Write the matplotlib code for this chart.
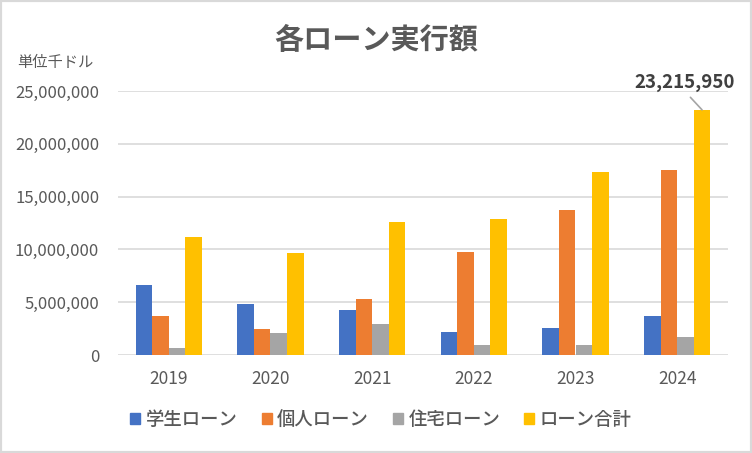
import matplotlib
matplotlib.use("Agg")
import matplotlib.pyplot as plt
import numpy as np
from matplotlib.patches import Patch, Rectangle
from matplotlib.ticker import FuncFormatter

plt.rcParams['font.family'] = ['Noto Sans CJK JP', 'DejaVu Sans']

# data (units: thousand dollars)
years = ['2019', '2020', '2021', '2022', '2023', '2024']
student = [6630000, 4860000, 4300000, 2200000, 2580000, 3700000]
personal = [3700000, 2480000, 5340000, 9780000, 13730000, 17500000]
housing = [700000, 2100000, 2970000, 910000, 970000, 1730000]
total = [11200000, 9700000, 12600000, 12900000, 17350000, 23215950]
series_names = ['学生ローン', '個人ローン', '住宅ローン', 'ローン合計']
colors = ['#4472C4', '#ED7D31', '#A5A5A5', '#FFC000']
text_color = '#595959'

fig = plt.figure(figsize=(7.52, 4.53), dpi=100)
ax = fig.add_axes([118/752, 1 - 355/453, (728-118)/752, (355-91)/453])

x = np.arange(len(years))
w = 0.163
all_series = [student, personal, housing, total]
for i, vals in enumerate(all_series):
    ax.bar(x + (i - 1.5) * w, vals, width=w, color=colors[i], zorder=3)

ax.set_xlim(-0.5, len(years) - 0.5)
ax.set_ylim(0, 25000000)
ax.set_yticks(np.arange(0, 25000001, 5000000))
ax.yaxis.set_major_formatter(FuncFormatter(lambda v, p: f'{int(v):,}'))
ax.set_xticks(x)
ax.set_xticklabels(years)
ax.tick_params(axis='both', length=0, colors=text_color)
ax.tick_params(axis='x', pad=11, labelsize=12.5)
ax.tick_params(axis='y', pad=13.5, labelsize=12)
ax.grid(axis='y', color='#D9D9D9', linewidth=1.2, zorder=0)
for s in ax.spines.values():
    s.set_visible(False)

# label on the last total bar
last = len(years) - 1
ax.annotate(f'{total[last]:,}', xy=(last + 1.5 * w, total[last]),
            xytext=(685, 453 - 82), textcoords='figure pixels',
            ha='center', va='center', fontsize=13.5, fontweight='bold', color='#404040',
            arrowprops=dict(arrowstyle='-', color='#A5A5A5', lw=1.2,
                            relpos=(0.5, 0), shrinkA=3, shrinkB=0))

fig.text(376/752, 1 - 40/453, '各ローン実行額', ha='center', va='center',
         fontsize=21, fontweight='bold', color=text_color)
fig.text(17/752, 1 - 62/453, '単位千ドル', ha='left', va='center',
         fontsize=11, color=text_color)

handles = [Patch(color=c) for c in colors]
fig.legend(handles, series_names, loc='center', bbox_to_anchor=(381/752, 1 - 420/453),
           ncol=4, frameon=False, fontsize=13.2, handlelength=0.55, handleheight=0.55,
           handletextpad=0.3, columnspacing=1.3, labelcolor=text_color,
           prop={'weight': 'medium', 'size': 13.2})

fig.patches.append(Rectangle((0, 0), 1, 1, transform=fig.transFigure, fill=False,
                             edgecolor='#D9D9D9', linewidth=3))

fig.savefig('out.png', dpi=100)
